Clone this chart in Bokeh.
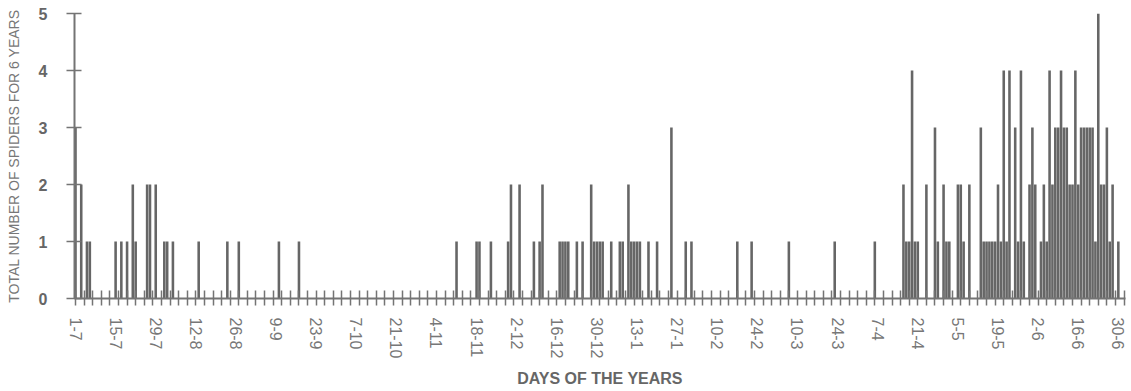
from bokeh.plotting import figure
from bokeh.models import Range1d, FixedTicker
from bokeh.embed import file_html
from bokeh.resources import INLINE

# day index counted from 1 July (day 0) to 30 June (day 364)
tick_labels = ["1-7", "15-7", "29-7", "12-8", "26-8", "9-9", "23-9", "7-10",
               "21-10", "4-11", "18-11", "2-12", "16-12", "30-12", "13-1",
               "27-1", "10-2", "24-2", "10-3", "24-3", "7-4", "21-4", "5-5",
               "19-5", "2-6", "16-6", "30-6"]
label_step_days = 14
minor_step_days = 3

summer_days = [0, 2, 4, 5, 14, 16, 18, 20, 21, 25, 26, 28, 31, 32, 34, 43, 53, 57, 71, 78]
summer_counts = [3, 2, 1, 1, 1, 1, 1, 2, 1, 2, 2, 2, 1, 1, 1, 1, 1, 1, 1, 1]

winter_days = [133, 140, 141, 145, 151, 152, 155, 160, 162, 163, 169, 170, 171, 172,
               175, 177, 180, 181, 182, 183, 184, 187, 190, 191, 193, 194, 195, 196,
               197, 200, 203, 208, 213, 215, 231, 236, 249, 265, 279]
winter_counts = [1, 1, 1, 1, 1, 2, 2, 1, 1, 2, 1, 1, 1, 1,
                 1, 1, 2, 1, 1, 1, 1, 1, 1, 1, 2, 1, 1, 1,
                 1, 1, 1, 3, 1, 1, 1, 1, 1, 1, 1]

spring_days = [289, 290, 291, 292, 293, 294, 297, 300, 301, 303, 304, 305, 308, 309,
               310, 312, 316, 317, 318, 319, 320, 321, 322, 323, 324, 325, 326, 328,
               329, 330, 331, 333, 334, 335, 337, 338, 339, 340, 341, 342, 343, 344,
               345, 346, 347, 348, 349, 350, 351, 352, 353, 354, 355, 356, 357, 358,
               359, 360, 361, 362, 364]
spring_counts = [2, 1, 1, 4, 1, 1, 2, 3, 1, 2, 1, 1, 2, 2,
                 1, 2, 3, 1, 1, 1, 1, 1, 2, 1, 4, 1, 4, 3,
                 1, 4, 1, 2, 3, 2, 1, 2, 1, 4, 2, 3, 3, 4,
                 3, 3, 2, 2, 4, 2, 3, 3, 3, 3, 3, 1, 5, 2,
                 2, 3, 1, 2, 1]

days = summer_days + winter_days + spring_days
counts = summer_counts + winter_counts + spring_counts

FONT = "Liberation Sans"
BAR = "#666666"
AXIS = "#747474"

p = figure(width=1131, height=391, output_backend="svg", toolbar_location=None,
           x_range=Range1d(-0.35, 366.5), y_range=Range1d(0, 5),
           min_border_left=74, min_border_right=6, min_border_top=13, min_border_bottom=93)
p.outline_line_color = None
p.xgrid.visible = False
p.ygrid.visible = False
p.background_fill_color = "white"

p.vbar(x=days, top=counts, width=0.9, bottom=0, fill_color=BAR, line_color=None)

major = [i * label_step_days for i in range(len(tick_labels))]
minor = list(range(0, 367, minor_step_days))
xa = p.xaxis[0]
xa.ticker = FixedTicker(ticks=major, minor_ticks=minor)
xa.major_label_overrides = {m: lab for m, lab in zip(major, tick_labels)}
xa.major_label_orientation = "vertical"
xa.major_tick_line_color = None
xa.major_tick_out = 7
xa.major_tick_in = 0
xa.minor_tick_in = 8
xa.minor_tick_out = 7
xa.minor_tick_line_color = AXIS
xa.minor_tick_line_width = 1.5
xa.axis_line_color = AXIS
xa.axis_line_width = 2
xa.major_label_standoff = 12
xa.major_label_text_font = FONT
xa.major_label_text_font_size = "16px"
xa.major_label_text_color = "#777777"
xa.axis_label = "DAYS OF THE YEARS"
xa.axis_label_text_font = FONT
xa.axis_label_text_font_size = "16px"
xa.axis_label_text_font_style = "bold"
xa.axis_label_text_color = "#666666"
xa.axis_label_standoff = 9

ya = p.yaxis[0]
ya.ticker = FixedTicker(ticks=[0, 1, 2, 3, 4, 5])
ya.minor_tick_line_color = None
ya.major_tick_in = 7
ya.major_tick_out = 8
ya.major_tick_line_color = AXIS
ya.major_tick_line_width = 1.5
ya.axis_line_color = AXIS
ya.axis_line_width = 2
ya.major_label_standoff = 19
ya.major_label_text_font = FONT
ya.major_label_text_font_size = "16px"
ya.major_label_text_font_style = "bold"
ya.major_label_text_color = "#666666"
ya.axis_label = "TOTAL NUMBER OF SPIDERS FOR 6 YEARS"
ya.axis_label_text_font = FONT
ya.axis_label_text_font_size = "14px"
ya.axis_label_text_font_style = "normal"
ya.axis_label_text_color = "#777777"
ya.axis_label_standoff = 14

open("out.html", "w").write(file_html(p, INLINE))
